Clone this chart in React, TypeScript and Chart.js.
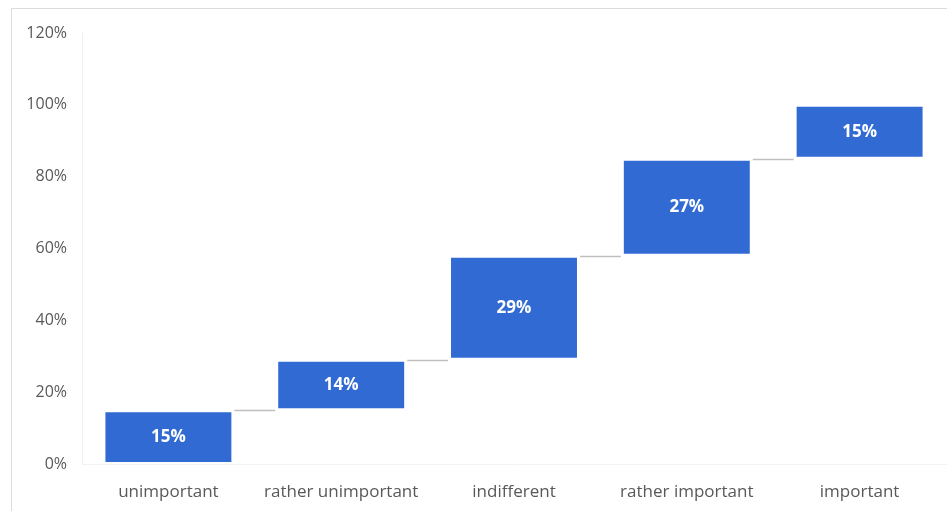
import React, { useEffect, useRef } from "react";
import { Chart, registerables } from "chart.js";

Chart.register(...registerables);

const categories = ["unimportant", "rather unimportant", "indifferent", "rather important", "important"];
const shares = [15, 14, 29, 27, 15];
const yTickValues = [0, 20, 40, 60, 80, 100, 120];

const BAR_BLUE = "#316AD3";
const CONNECTOR_GREY = "#BFBFBF";
const TEXT_GREY = "#595959";
const FONT = "'Open Sans', 'DejaVu Sans', sans-serif";

// running totals: each bar floats from the previous total to the new one
const cumulative: number[] = [];
shares.reduce((acc, v) => {
  cumulative.push(acc + v);
  return acc + v;
}, 0);
const floating = shares.map((v, i) => [cumulative[i] - v, cumulative[i]]);

const waterfallDecor = {
  id: "waterfallDecor",
  afterDatasetsDraw(chart: any) {
    const meta = chart.getDatasetMeta(0);
    const yScale = chart.scales.y;
    const ctx = chart.ctx;
    ctx.save();
    // step connectors between consecutive bars
    ctx.strokeStyle = CONNECTOR_GREY;
    ctx.lineWidth = 1.5;
    for (let i = 0; i < meta.data.length - 1; i++) {
      const bar = meta.data[i];
      const next = meta.data[i + 1];
      const y = Math.round(yScale.getPixelForValue(cumulative[i])) + 0.5;
      ctx.beginPath();
      ctx.moveTo(bar.x + bar.width / 2 + 1, y);
      ctx.lineTo(next.x - next.width / 2 - 1, y);
      ctx.stroke();
    }
    // value labels centred in each bar
    ctx.fillStyle = "#FFFFFF";
    ctx.font = `bold 17px ${FONT}`;
    ctx.textAlign = "center";
    ctx.textBaseline = "middle";
    meta.data.forEach((bar: any, i: number) => {
      const mid = (bar.y + bar.base) / 2;
      ctx.fillText(`${shares[i]}%`, bar.x, mid);
    });
    ctx.restore();
  },
};

export default function App() {
  const canvasRef = useRef<HTMLCanvasElement | null>(null);

  useEffect(() => {
    document.body.style.margin = "0";
    const canvas = canvasRef.current;
    if (!canvas) return;
    const chart = new Chart(canvas, {
      type: "bar",
      data: {
        labels: categories,
        datasets: [
          {
            data: floating as any,
            backgroundColor: BAR_BLUE,
            borderColor: "#FFFFFF",
            borderWidth: 2,
            borderSkipped: false,
            barPercentage: 0.752,
            categoryPercentage: 1,
          },
        ],
      },
      options: {
        animation: false,
        responsive: false,
        maintainAspectRatio: false,
        layout: { padding: { top: 33, right: 1, left: 0, bottom: 0 } },
        plugins: {
          legend: { display: false },
          tooltip: { enabled: false },
        },
        scales: {
          x: {
            grid: { display: false, drawTicks: false },
            border: { display: true, color: "#F3F3F3" },
            ticks: {
              color: TEXT_GREY,
              font: { family: FONT, size: 17 },
              padding: 18,
              maxRotation: 0,
            },
            afterFit(scale: any) {
              scale.height = 47;
            },
          },
          y: {
            min: 0,
            max: 120,
            grid: { display: false, drawTicks: false },
            border: { display: true, color: "#EFEFEF" },
            afterBuildTicks(scale: any) {
              scale.ticks = yTickValues.map((v) => ({ value: v }));
            },
            ticks: {
              color: TEXT_GREY,
              font: { family: FONT, size: 16 },
              padding: 15,
              callback: (v: any) => `${v}%`,
            },
            afterFit(scale: any) {
              scale.width = 82;
            },
          },
        },
      },
      plugins: [waterfallDecor],
    });
    return () => chart.destroy();
  }, []);

  return (
    <div style={{ position: "relative", width: 947, height: 511, background: "#FFFFFF", overflow: "hidden" }}>
      <div
        style={{
          position: "absolute",
          left: 11,
          top: 8,
          right: -2,
          bottom: -2,
          borderTop: "1px solid #DCDCDC",
          borderLeft: "1px solid #DCDCDC",
        }}
      />
      <canvas ref={canvasRef} width={947} height={511} style={{ position: "absolute", left: 0, top: 0 }} />
    </div>
  );
}
